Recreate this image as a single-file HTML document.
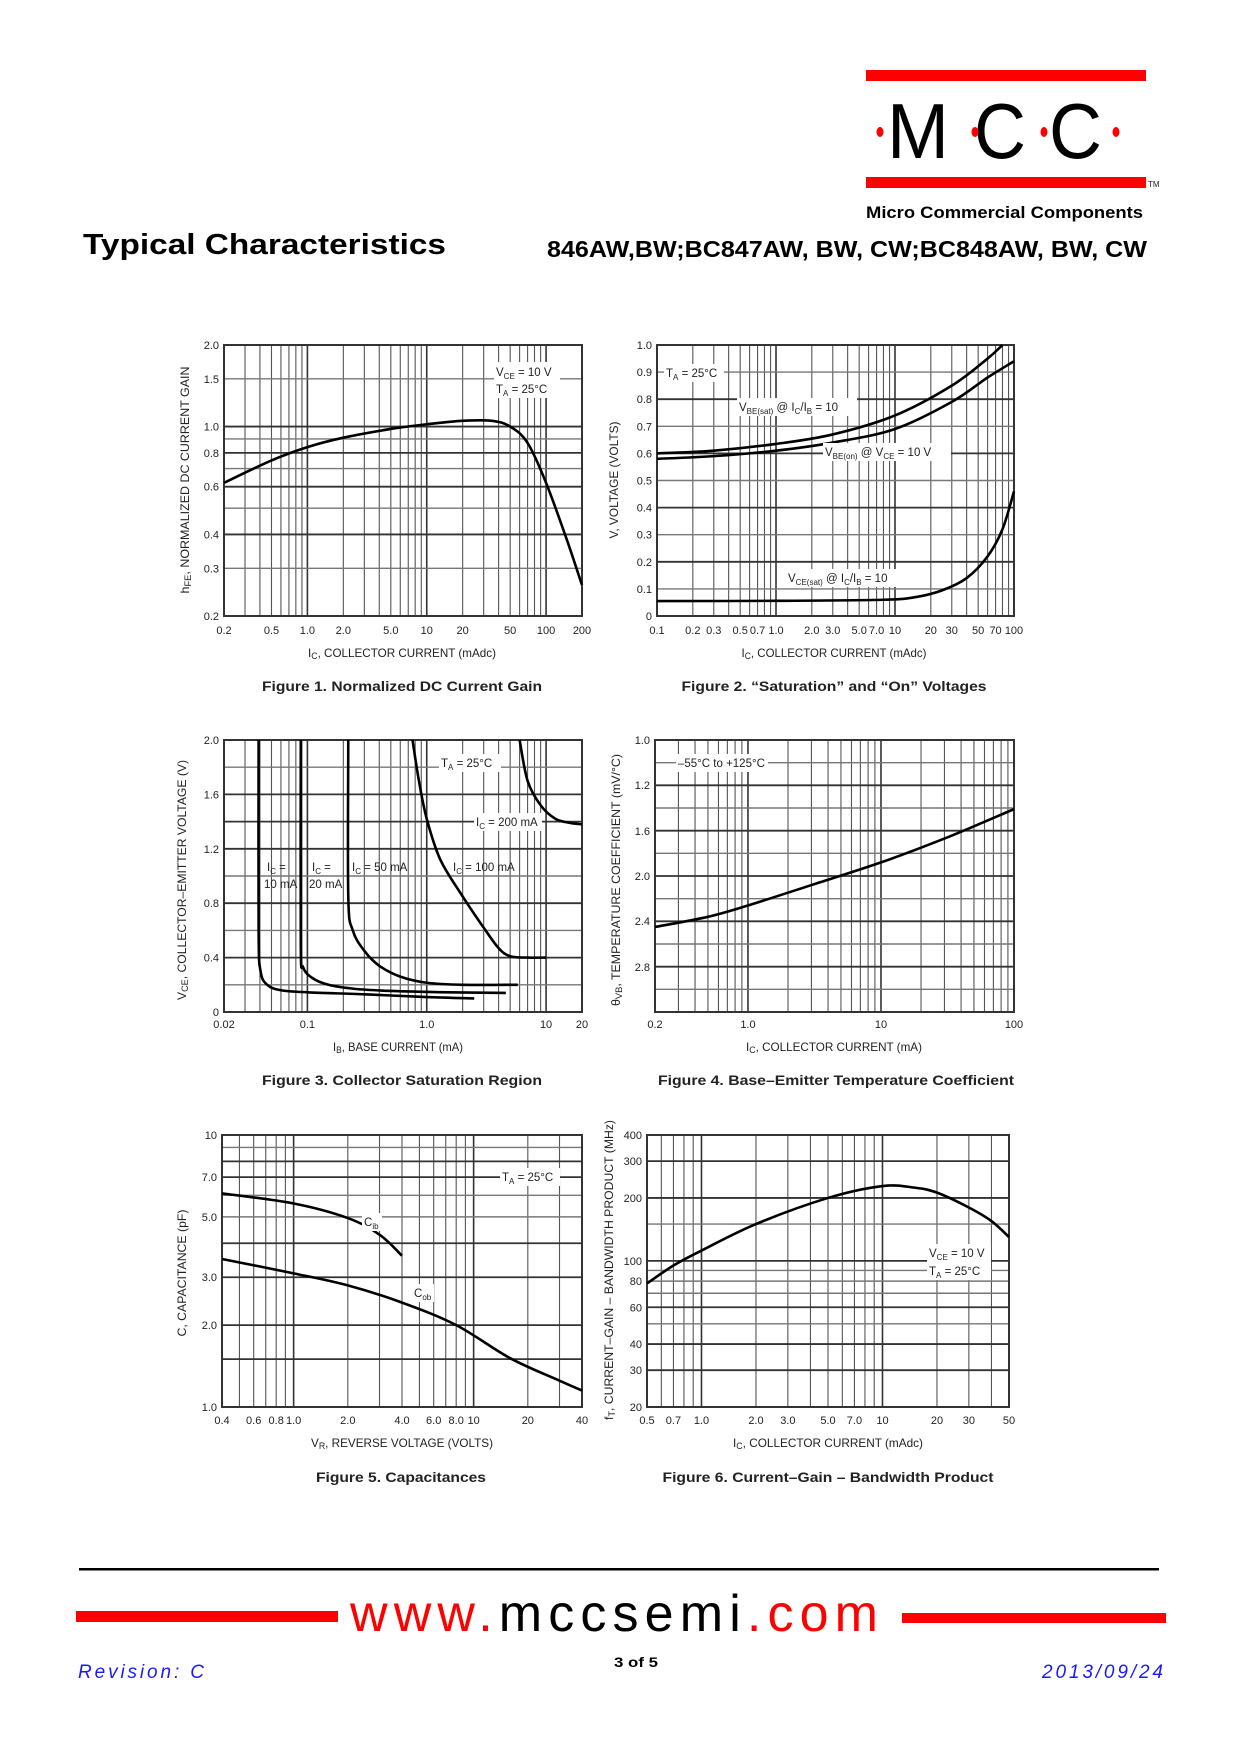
<!DOCTYPE html>
<html><head><meta charset="utf-8"><style>
html,body{margin:0;padding:0;background:#fff}
svg{display:block}
.tk{font-family:"Liberation Sans Narrow","Liberation Sans",sans-serif;font-size:11px;fill:#222}
.ax{font-family:"Liberation Sans Narrow","Liberation Sans",sans-serif;font-size:12px;fill:#222}
.cap{font-family:"Liberation Sans Narrow","Liberation Sans",sans-serif;font-size:14px;font-weight:bold;fill:#222}
.lb{font-family:"Liberation Sans Narrow","Liberation Sans",sans-serif;font-size:11.5px;fill:#222}
</style></head><body>
<svg id="s" width="1240" height="1754" viewBox="0 0 1240 1754" xmlns="http://www.w3.org/2000/svg">
<rect width="1240" height="1754" fill="#fff"/>
<!-- header -->
<rect x="866" y="70" width="280" height="11" fill="#f00"/>
<rect x="866" y="177" width="280" height="11" fill="#f00"/>
<text x="1148" y="187" font-family="Liberation Sans" font-size="8" fill="#222">TM</text>
<text x="887" y="158" font-family="Liberation Sans" font-size="78" fill="#000" textLength="62" lengthAdjust="spacingAndGlyphs">M</text>
<text x="974" y="158" font-family="Liberation Sans" font-size="78" fill="#000" textLength="52" lengthAdjust="spacingAndGlyphs">C</text>
<text x="1049" y="158" font-family="Liberation Sans" font-size="78" fill="#000" textLength="53" lengthAdjust="spacingAndGlyphs">C</text>
<ellipse cx="880" cy="132" rx="3.5" ry="5" fill="#f00"/>
<ellipse cx="975" cy="132" rx="3.5" ry="5" fill="#f00"/>
<ellipse cx="1044" cy="132" rx="3.5" ry="5" fill="#f00"/>
<ellipse cx="1116" cy="132" rx="3.5" ry="5" fill="#f00"/>
<text x="866" y="218" font-family="Liberation Sans" font-weight="bold" font-size="17" fill="#000" textLength="277" lengthAdjust="spacingAndGlyphs">Micro Commercial Components</text>
<text x="83" y="254" font-family="Liberation Sans" font-weight="bold" font-size="29" fill="#000" textLength="363" lengthAdjust="spacingAndGlyphs">Typical Characteristics</text>
<text x="547" y="257" font-family="Liberation Sans" font-weight="bold" font-size="23" fill="#000" textLength="600" lengthAdjust="spacingAndGlyphs">846AW,BW;BC847AW, BW, CW;BC848AW, BW, CW</text>

<g id="grids"></g>
<g id="curves"></g>

<!-- Chart 1 -->
<g class="tk" text-anchor="middle">
<text class="xt c1" y="634">0.2</text><text class="xt c1" y="634">0.5</text><text class="xt c1" y="634">1.0</text><text class="xt c1" y="634">2.0</text><text class="xt c1" y="634">5.0</text><text class="xt c1" y="634">10</text><text class="xt c1" y="634">20</text><text class="xt c1" y="634">50</text><text class="xt c1" y="634">100</text><text class="xt c1" y="634">200</text>
</g>
<g class="tk" text-anchor="end">
<text class="yt c1" x="219">0.2</text><text class="yt c1" x="219">0.3</text><text class="yt c1" x="219">0.4</text><text class="yt c1" x="219">0.6</text><text class="yt c1" x="219">0.8</text><text class="yt c1" x="219">1.0</text><text class="yt c1" x="219">1.5</text><text class="yt c1" x="219">2.0</text>
</g>
<rect x="494" y="362" width="66" height="36" fill="#fff"/>
<text class="lb" x="496" y="376">V<tspan font-size="8" dy="3">CE</tspan><tspan dy="-3"> = 10 V</tspan></text>
<text class="lb" x="496" y="393">T<tspan font-size="8" dy="3">A</tspan><tspan dy="-3"> = 25°C</tspan></text>
<text class="ax" text-anchor="middle" transform="translate(189,480) rotate(-90)" textLength="227" lengthAdjust="spacingAndGlyphs">h<tspan font-size="9" dy="2">FE</tspan><tspan dy="-2">, NORMALIZED DC CURRENT GAIN</tspan></text>
<text class="ax" x="402" y="657" text-anchor="middle" textLength="188" lengthAdjust="spacingAndGlyphs">I<tspan font-size="9" dy="2">C</tspan><tspan dy="-2">, COLLECTOR CURRENT (mAdc)</tspan></text>
<text class="cap" x="402" y="691" text-anchor="middle" textLength="280" lengthAdjust="spacingAndGlyphs">Figure 1. Normalized DC Current Gain</text>

<!-- Chart 2 -->
<g class="tk" text-anchor="middle" font-size="10.5">
<text class="xt c2" y="634">0.1</text><text class="xt c2" y="634">0.2</text><text class="xt c2" y="634">0.3</text><text class="xt c2" y="634">0.5</text><text class="xt c2" y="634">0.7</text><text class="xt c2" y="634">1.0</text><text class="xt c2" y="634">2.0</text><text class="xt c2" y="634">3.0</text><text class="xt c2" y="634">5.0</text><text class="xt c2" y="634">7.0</text><text class="xt c2" y="634">10</text><text class="xt c2" y="634">20</text><text class="xt c2" y="634">30</text><text class="xt c2" y="634">50</text><text class="xt c2" y="634">70</text><text class="xt c2" y="634">100</text>
</g>
<g class="tk" text-anchor="end">
<text class="yt c2" x="652">0</text><text class="yt c2" x="652">0.1</text><text class="yt c2" x="652">0.2</text><text class="yt c2" x="652">0.3</text><text class="yt c2" x="652">0.4</text><text class="yt c2" x="652">0.5</text><text class="yt c2" x="652">0.6</text><text class="yt c2" x="652">0.7</text><text class="yt c2" x="652">0.8</text><text class="yt c2" x="652">0.9</text><text class="yt c2" x="652">1.0</text>
</g>
<rect x="664" y="364" width="60" height="18" fill="#fff"/>
<text class="lb" x="666" y="377">T<tspan font-size="8" dy="3">A</tspan><tspan dy="-3"> = 25°C</tspan></text>
<rect x="737" y="398" width="120" height="18" fill="#fff"/>
<text class="lb" x="739" y="411">V<tspan font-size="8" dy="3">BE(sat)</tspan><tspan dy="-3"> @ I</tspan><tspan font-size="8" dy="3">C</tspan><tspan dy="-3">/I</tspan><tspan font-size="8" dy="3">B</tspan><tspan dy="-3"> = 10</tspan></text>
<rect x="823" y="443" width="128" height="18" fill="#fff"/>
<text class="lb" x="825" y="456">V<tspan font-size="8" dy="3">BE(on)</tspan><tspan dy="-3"> @ V</tspan><tspan font-size="8" dy="3">CE</tspan><tspan dy="-3"> = 10 V</tspan></text>
<rect x="786" y="569" width="122" height="18" fill="#fff"/>
<text class="lb" x="788" y="582">V<tspan font-size="8" dy="3">CE(sat)</tspan><tspan dy="-3"> @ I</tspan><tspan font-size="8" dy="3">C</tspan><tspan dy="-3">/I</tspan><tspan font-size="8" dy="3">B</tspan><tspan dy="-3"> = 10</tspan></text>
<text class="ax" text-anchor="middle" transform="translate(618,480) rotate(-90)" textLength="117" lengthAdjust="spacingAndGlyphs">V, VOLTAGE (VOLTS)</text>
<text class="ax" x="834" y="657" text-anchor="middle" textLength="185" lengthAdjust="spacingAndGlyphs">I<tspan font-size="9" dy="2">C</tspan><tspan dy="-2">, COLLECTOR CURRENT (mAdc)</tspan></text>
<text class="cap" x="834" y="691" text-anchor="middle" textLength="305" lengthAdjust="spacingAndGlyphs">Figure 2. “Saturation” and “On” Voltages</text>

<!-- Chart 3 -->
<g class="tk" text-anchor="middle">
<text class="xt c3" y="1028">0.02</text><text class="xt c3" y="1028">0.1</text><text class="xt c3" y="1028">1.0</text><text class="xt c3" y="1028">10</text><text class="xt c3" y="1028">20</text>
</g>
<g class="tk" text-anchor="end">
<text class="yt c3" x="219">0</text><text class="yt c3" x="219">0.4</text><text class="yt c3" x="219">0.8</text><text class="yt c3" x="219">1.2</text><text class="yt c3" x="219">1.6</text><text class="yt c3" x="219">2.0</text>
</g>
<rect x="439" y="754" width="62" height="18" fill="#fff"/>
<text class="lb" x="441" y="767">T<tspan font-size="8" dy="3">A</tspan><tspan dy="-3"> = 25°C</tspan></text>
<rect x="474" y="813" width="68" height="18" fill="#fff"/>
<text class="lb" x="476" y="826">I<tspan font-size="8" dy="3">C</tspan><tspan dy="-3"> = 200 mA</tspan></text>
<text class="lb" x="267" y="871">I<tspan font-size="8" dy="3">C</tspan><tspan dy="-3"> =</tspan></text>
<text class="lb" x="264" y="888">10 mA</text>
<text class="lb" x="312" y="871">I<tspan font-size="8" dy="3">C</tspan><tspan dy="-3"> =</tspan></text>
<text class="lb" x="309" y="888">20 mA</text>
<text class="lb" x="352" y="871">I<tspan font-size="8" dy="3">C</tspan><tspan dy="-3"> = 50 mA</tspan></text>
<text class="lb" x="453" y="871">I<tspan font-size="8" dy="3">C</tspan><tspan dy="-3"> = 100 mA</tspan></text>
<text class="ax" text-anchor="middle" transform="translate(186,880) rotate(-90)" textLength="240" lengthAdjust="spacingAndGlyphs">V<tspan font-size="9" dy="2">CE</tspan><tspan dy="-2">, COLLECTOR–EMITTER VOLTAGE (V)</tspan></text>
<text class="ax" x="398" y="1051" text-anchor="middle" textLength="130" lengthAdjust="spacingAndGlyphs">I<tspan font-size="9" dy="2">B</tspan><tspan dy="-2">, BASE CURRENT (mA)</tspan></text>
<text class="cap" x="402" y="1085" text-anchor="middle" textLength="280" lengthAdjust="spacingAndGlyphs">Figure 3. Collector Saturation Region</text>

<!-- Chart 4 -->
<g class="tk" text-anchor="middle">
<text class="xt c4" y="1028">0.2</text><text class="xt c4" y="1028">1.0</text><text class="xt c4" y="1028">10</text><text class="xt c4" y="1028">100</text>
</g>
<g class="tk" text-anchor="end">
<text x="650" y="744">1.0</text><text x="650" y="789">1.2</text><text x="650" y="835">1.6</text><text x="650" y="880">2.0</text><text x="650" y="925">2.4</text><text x="650" y="971">2.8</text>
</g>
<rect x="676" y="754" width="92" height="18" fill="#fff"/>
<text class="lb" x="678" y="767">–55°C to +125°C</text>
<text class="ax" text-anchor="middle" transform="translate(620,880) rotate(-90)" textLength="252" lengthAdjust="spacingAndGlyphs">θ<tspan font-size="9" dy="2">VB</tspan><tspan dy="-2">, TEMPERATURE COEFFICIENT (mV/°C)</tspan></text>
<text class="ax" x="834" y="1051" text-anchor="middle" textLength="176" lengthAdjust="spacingAndGlyphs">I<tspan font-size="9" dy="2">C</tspan><tspan dy="-2">, COLLECTOR CURRENT (mA)</tspan></text>
<text class="cap" x="836" y="1085" text-anchor="middle" textLength="356" lengthAdjust="spacingAndGlyphs">Figure 4. Base–Emitter Temperature Coefficient</text>

<!-- Chart 5 -->
<g class="tk" text-anchor="middle" font-size="10.5">
<text class="xt c5" y="1424">0.4</text><text class="xt c5" y="1424">0.6</text><text class="xt c5" y="1424">0.8</text><text class="xt c5" y="1424">1.0</text><text class="xt c5" y="1424">2.0</text><text class="xt c5" y="1424">4.0</text><text class="xt c5" y="1424">6.0</text><text class="xt c5" y="1424">8.0</text><text class="xt c5" y="1424">10</text><text class="xt c5" y="1424">20</text><text class="xt c5" y="1424">40</text>
</g>
<g class="tk" text-anchor="end">
<text class="yt c5" x="217">1.0</text><text class="yt c5" x="217">2.0</text><text class="yt c5" x="217">3.0</text><text class="yt c5" x="217">5.0</text><text class="yt c5" x="217">7.0</text><text class="yt c5" x="217">10</text>
</g>
<rect x="500" y="1168" width="60" height="18" fill="#fff"/>
<text class="lb" x="502" y="1181">T<tspan font-size="8" dy="3">A</tspan><tspan dy="-3"> = 25°C</tspan></text>
<rect x="362" y="1213" width="20" height="18" fill="#fff"/>
<text class="lb" x="364" y="1226">C<tspan font-size="8" dy="3">ib</tspan></text>
<rect x="412" y="1284" width="22" height="18" fill="#fff"/>
<text class="lb" x="414" y="1297">C<tspan font-size="8" dy="3">ob</tspan></text>
<text class="ax" text-anchor="middle" transform="translate(186,1273) rotate(-90)" textLength="127" lengthAdjust="spacingAndGlyphs">C, CAPACITANCE (pF)</text>
<text class="ax" x="402" y="1447" text-anchor="middle" textLength="182" lengthAdjust="spacingAndGlyphs">V<tspan font-size="9" dy="2">R</tspan><tspan dy="-2">, REVERSE VOLTAGE (VOLTS)</tspan></text>
<text class="cap" x="401" y="1482" text-anchor="middle" textLength="170" lengthAdjust="spacingAndGlyphs">Figure 5. Capacitances</text>

<!-- Chart 6 -->
<g class="tk" text-anchor="middle" font-size="10.5">
<text class="xt c6" y="1424">0.5</text><text class="xt c6" y="1424">0.7</text><text class="xt c6" y="1424">1.0</text><text class="xt c6" y="1424">2.0</text><text class="xt c6" y="1424">3.0</text><text class="xt c6" y="1424">5.0</text><text class="xt c6" y="1424">7.0</text><text class="xt c6" y="1424">10</text><text class="xt c6" y="1424">20</text><text class="xt c6" y="1424">30</text><text class="xt c6" y="1424">50</text>
</g>
<g class="tk" text-anchor="end">
<text class="yt c6" x="642">20</text><text class="yt c6" x="642">30</text><text class="yt c6" x="642">40</text><text class="yt c6" x="642">60</text><text class="yt c6" x="642">80</text><text class="yt c6" x="642">100</text><text class="yt c6" x="642">200</text><text class="yt c6" x="642">300</text><text class="yt c6" x="642">400</text>
</g>
<rect x="927" y="1244" width="64" height="36" fill="#fff"/>
<text class="lb" x="929" y="1257">V<tspan font-size="8" dy="3">CE</tspan><tspan dy="-3"> = 10 V</tspan></text>
<text class="lb" x="929" y="1275">T<tspan font-size="8" dy="3">A</tspan><tspan dy="-3"> = 25°C</tspan></text>
<text class="ax" text-anchor="middle" transform="translate(613,1270) rotate(-90)" textLength="300" lengthAdjust="spacingAndGlyphs">f<tspan font-size="9" dy="2">T</tspan><tspan dy="-2">, CURRENT–GAIN – BANDWIDTH PRODUCT (MHz)</tspan></text>
<text class="ax" x="828" y="1447" text-anchor="middle" textLength="190" lengthAdjust="spacingAndGlyphs">I<tspan font-size="9" dy="2">C</tspan><tspan dy="-2">, COLLECTOR CURRENT (mAdc)</tspan></text>
<text class="cap" x="828" y="1482" text-anchor="middle" textLength="331" lengthAdjust="spacingAndGlyphs">Figure 6. Current–Gain – Bandwidth Product</text>

<!-- footer -->
<rect x="79" y="1568" width="1080" height="2.5" fill="#000"/>
<rect x="76" y="1611" width="262" height="11" fill="#f00"/>
<rect x="902" y="1613" width="264" height="10" fill="#f00"/>
<text x="350" y="1631" font-family="Liberation Sans" font-size="52" textLength="528" lengthAdjust="spacing"><tspan fill="#f00">www.</tspan><tspan fill="#000">mccsemi</tspan><tspan fill="#f00">.com</tspan></text>
<text x="614" y="1667" font-family="Liberation Sans" font-weight="bold" font-size="14" fill="#000" textLength="44" lengthAdjust="spacingAndGlyphs">3 of 5</text>
<text x="78" y="1678" font-family="Liberation Sans" font-style="italic" font-size="19" fill="#1a1aff" textLength="126" lengthAdjust="spacing">Revision: C</text>
<text x="1042" y="1678" font-family="Liberation Sans" font-style="italic" font-size="19" fill="#1a1aff" textLength="121" lengthAdjust="spacing">2013/09/24</text>
</svg>
<script>
(function(){
var NS="http://www.w3.org/2000/svg";
var C={
c1:{x0:224,x1:582,y0:345,y1:616,xs:'log',xr:[0.2,200],ys:'log',yr:[0.2,2],hl:[0.2,0.3,0.4,0.5,0.6,0.7,0.8,0.9,1,1.5,2],maj:[0.2,0.4,0.6,0.8,1,2]},
c2:{x0:657,x1:1014,y0:345,y1:616,xs:'log',xr:[0.1,100],ys:'lin',yr:[0,1],hl:[0,.1,.2,.3,.4,.5,.6,.7,.8,.9,1],maj:[0,.2,.4,.6,.8,1]},
c3:{x0:224,x1:582,y0:740,y1:1012,xs:'log',xr:[0.02,20],ys:'lin',yr:[0,2],hl:[0,.2,.4,.6,.8,1,1.2,1.4,1.6,1.8,2],maj:[0,.4,.8,1.2,1.4,1.6,2]},
c4:{x0:655,x1:1014,y0:740,y1:1012,xs:'log',xr:[0.2,100],ys:'lin',yr:[3.2,0.8],hl:[0.8,1,1.2,1.4,1.6,1.8,2,2.2,2.4,2.6,2.8,3,3.2],maj:[0.8,1.2,1.6,2,2.4,2.8,3.2]},
c5:{x0:222,x1:582,y0:1135,y1:1407,xs:'log',xr:[0.4,40],ys:'log',yr:[1,10],hl:[1,1.5,2,3,4,5,6,7,8,9,10],maj:[1,1.5,2,3,4,7,8,10]},
c6:{x0:647,x1:1009,y0:1135,y1:1407,xs:'log',xr:[0.5,50],ys:'log',yr:[20,400],hl:[20,30,40,50,60,70,80,90,100,150,200,300,400],maj:[20,30,40,60,100,200,300,400]}
};
function L(v){return Math.log(v)/Math.LN10;}
function X(c,v){return c.x0+(L(v)-L(c.xr[0]))/(L(c.xr[1])-L(c.xr[0]))*(c.x1-c.x0);}
function Y(c,v){var a=c.yr[0],b=c.yr[1];var t=c.ys=='log'?(L(v)-L(a))/(L(b)-L(a)):(v-a)/(b-a);return c.y1-t*(c.y1-c.y0);}
function el(n,at,p){var e=document.createElementNS(NS,n);for(var k in at)e.setAttribute(k,at[k]);p.appendChild(e);return e;}
var G=document.getElementById('grids'),CV=document.getElementById('curves');
for(var id in C){var c=C[id];
 var k0=Math.floor(L(c.xr[0]))-1,k1=Math.ceil(L(c.xr[1]));
 for(var k=k0;k<=k1;k++)for(var m=1;m<=9;m++){var v=m*Math.pow(10,k);if(v<c.xr[0]*0.999||v>c.xr[1]*1.001)continue;var x=X(c,v);
  el('line',{x1:x,x2:x,y1:c.y0,y2:c.y1,stroke:m==1?'#333':'#555','stroke-width':m==1?1.6:1.1},G);}
 c.hl.forEach(function(v){var y=Y(c,v);var mj=c.maj.some(function(q){return Math.abs(q-v)<1e-9;});
  el('line',{x1:c.x0,x2:c.x1,y1:y,y2:y,stroke:mj?'#333':'#777','stroke-width':mj?1.8:1.4},G);});
 el('rect',{x:c.x0,y:c.y0,width:c.x1-c.x0,height:c.y1-c.y0,fill:'none',stroke:'#333','stroke-width':2},G);
}
document.querySelectorAll('text.xt').forEach(function(t){var id=t.getAttribute('class').split(' ')[1];t.setAttribute('x',X(C[id],parseFloat(t.textContent)));});
document.querySelectorAll('text.yt').forEach(function(t){var id=t.getAttribute('class').split(' ')[1];t.setAttribute('y',Y(C[id],parseFloat(t.textContent))+4);});
function curve(id,pts){var c=C[id];var P=pts.map(function(p){return [X(c,p[0]),Y(c,p[1])];});
 var d='M'+P[0][0]+','+P[0][1];
 for(var i=0;i<P.length-1;i++){var p0=P[i-1]||P[i],p1=P[i],p2=P[i+1],p3=P[i+2]||p2;
  var c1x=p1[0]+(p2[0]-p0[0])/6,c1y=p1[1]+(p2[1]-p0[1])/6,c2x=p2[0]-(p3[0]-p1[0])/6,c2y=p2[1]-(p3[1]-p1[1])/6;
  d+=' C'+c1x+','+c1y+' '+c2x+','+c2y+' '+p2[0]+','+p2[1];}
 el('path',{d:d,fill:'none',stroke:'#000','stroke-width':2.6,'stroke-linejoin':'round'},CV);}
curve('c1',[[0.2,0.62],[0.5,0.75],[1,0.84],[2,0.91],[5,0.98],[10,1.02],[20,1.05],[35,1.05],[50,1.0],[70,0.87],[100,0.62],[150,0.38],[200,0.26]]);
curve('c2',[[0.1,0.60],[0.3,0.61],[1,0.635],[3,0.67],[10,0.74],[30,0.85],[60,0.95],[80,1.0]]);
curve('c2',[[0.1,0.58],[0.3,0.59],[1,0.61],[3,0.64],[10,0.69],[30,0.79],[60,0.88],[100,0.94]]);
curve('c2',[[0.1,0.055],[1,0.056],[8,0.06],[15,0.07],[25,0.095],[40,0.14],[60,0.22],[80,0.32],[100,0.46]]);
curve('c3',[[0.039,2.0],[0.039,0.6],[0.0405,0.3],[0.046,0.2],[0.06,0.16],[0.1,0.145],[0.3,0.13],[1,0.11],[2.5,0.1]]);
curve('c3',[[0.088,2.0],[0.088,0.5],[0.092,0.33],[0.11,0.25],[0.15,0.2],[0.25,0.17],[0.5,0.155],[1.5,0.145],[4.6,0.14]]);
curve('c3',[[0.22,2.0],[0.22,0.85],[0.24,0.6],[0.3,0.45],[0.4,0.34],[0.6,0.26],[1,0.215],[2,0.2],[5.8,0.2]]);
curve('c3',[[0.76,2.0],[0.86,1.7],[1.0,1.42],[1.3,1.12],[2,0.85],[3,0.62],[4,0.47],[5,0.41],[7,0.4],[10,0.4]]);
curve('c3',[[6,2.0],[7,1.7],[9,1.52],[12,1.42],[16,1.39],[20,1.38]]);
curve('c4',[[0.2,2.45],[0.5,2.36],[1,2.26],[3,2.08],[10,1.88],[30,1.67],[100,1.41]]);
curve('c5',[[0.4,6.1],[1,5.6],[2,4.95],[3,4.3],[4,3.6]]);
curve('c5',[[0.4,3.5],[1,3.1],[2,2.8],[4,2.42],[8,2.0],[16,1.51],[30,1.25],[40,1.15]]);
curve('c6',[[0.5,78],[0.7,95],[1,112],[2,150],[5,200],[10,228],[15,224],[20,212],[30,180],[40,155],[50,130]]);
})();
</script>
</body></html>
